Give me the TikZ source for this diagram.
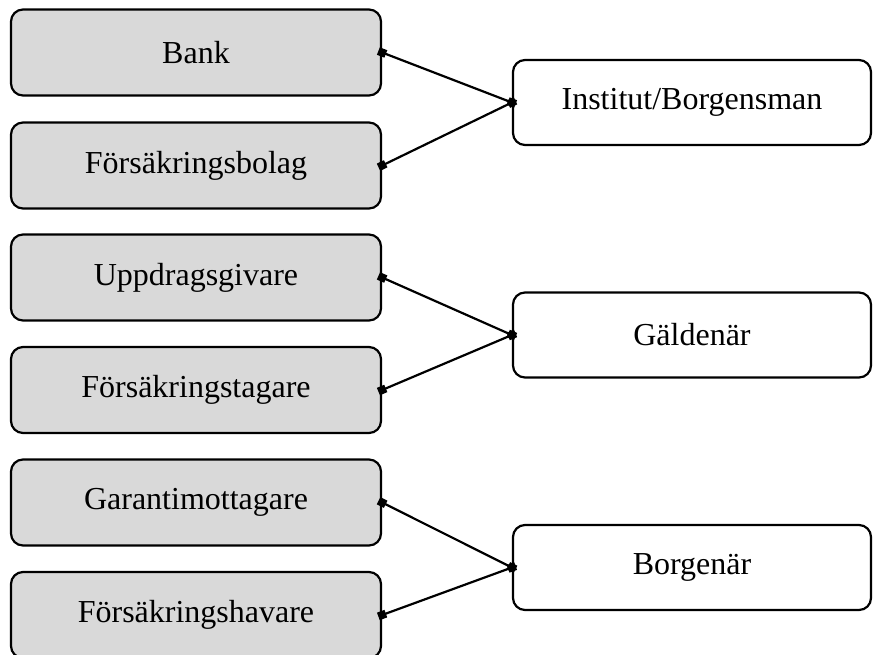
\documentclass[tikz,border=0pt]{standalone}
\usepackage{fontspec}
\setmainfont{Liberation Serif}
\usetikzlibrary{arrows.meta}
\definecolor{partyGray}{RGB}{217,217,217}

\begin{document}
\begin{tikzpicture}[x=1pt, y=-1pt,
        party/.style={rectangle, draw=black, line width=2.2pt, rounded corners=12pt, fill=partyGray, minimum width=370pt, minimum height=86pt, font=\fontsize{32}{38}\selectfont},
        role/.style={party, fill=white, minimum width=358pt, minimum height=85pt},
        link/.style={line width=2.2pt, {Square[length=8pt,width=8pt]}-{Square[length=8pt,width=8pt]}, shorten <=-4pt, shorten >=-4pt}
    ]
        \useasboundingbox (0,0) rectangle (873,654);
        \node[party] (bank) at (196,52.5) {Bank};
        \node[party] (forsbolag) at (196,165.5) {Försäkringsbolag};
        \node[party] (uppdrag) at (196,277.5) {Uppdragsgivare};
        \node[party] (forstagare) at (196,390) {Försäkringstagare};
        \node[party] (garanti) at (196,502.5) {Garantimottagare};
        \node[party] (forshavare) at (196,615) {Försäkringshavare};
        \node[role] (institut) at (692,102.5) {Institut/Borgensman};
        \node[role] (galdenar) at (692,335) {Gäldenär};
        \node[role] (borgenar) at (692,567.5) {Borgenär};
        \draw[link] (bank.east) -- (institut.west);
        \draw[link] (forsbolag.east) -- (institut.west);
        \draw[link] (uppdrag.east) -- (galdenar.west);
        \draw[link] (forstagare.east) -- (galdenar.west);
        \draw[link] (garanti.east) -- (borgenar.west);
        \draw[link] (forshavare.east) -- (borgenar.west);
    \end{tikzpicture}
\end{document}
